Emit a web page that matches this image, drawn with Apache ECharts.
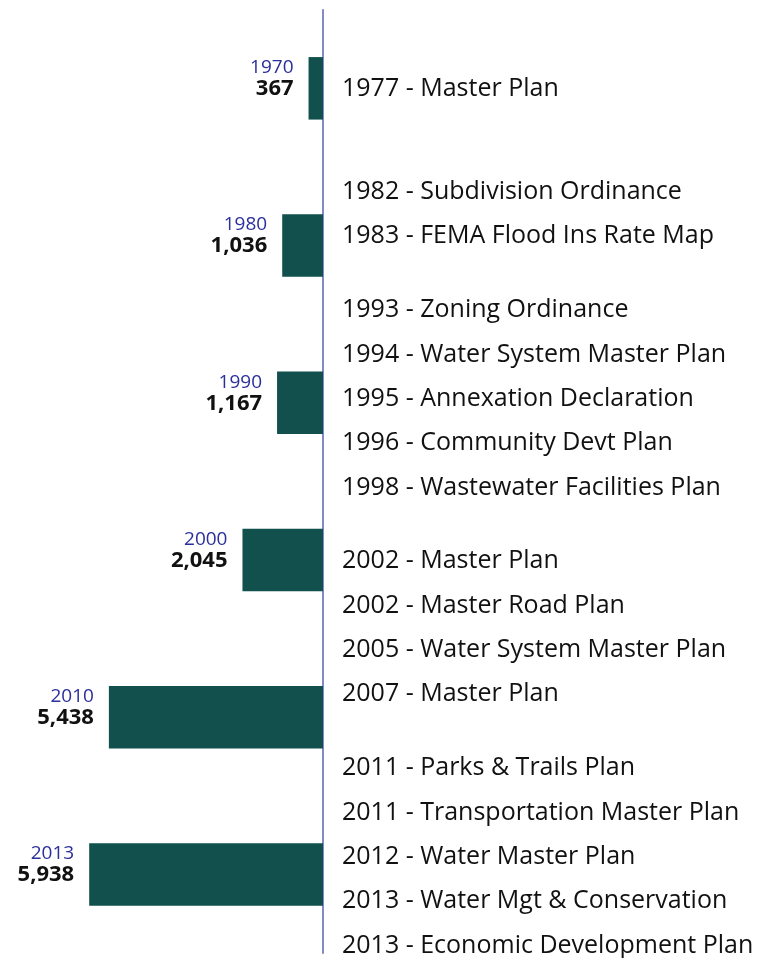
<!DOCTYPE html>
<html>
<head>
<meta charset="utf-8">
<script src="https://cdn.jsdelivr.net/npm/echarts@6/dist/echarts.min.js"></script>
<style>
  html, body { margin: 0; padding: 0; background: #ffffff; }
  #chart { width: 758px; height: 958px; }
</style>
</head>
<body>
<div id="chart"></div>
<script>
// Census years shown beside each bar
const censusYears = ['1970', '1980', '1990', '2000', '2010', '2013'];
// Population values
const population = [367, 1036, 1167, 2045, 5438, 5938];
// Planning milestones (timeline rows; '' = empty row)
const milestoneTicks = [
  '1977 - Master Plan', '', '', '', '', '', '',
  '1982 - Subdivision Ordinance', '', '',
  '1983 - FEMA Flood Ins Rate Map', '', '', '', '',
  '1993 - Zoning Ordinance', '', '',
  '1994 - Water System Master Plan', '', '',
  '1995 - Annexation Declaration', '', '',
  '1996 - Community Devt Plan', '', '',
  '1998 - Wastewater Facilities Plan', '', '', '', '',
  '2002 - Master Plan', '', '',
  '2002 - Master Road Plan', '', '',
  '2005 - Water System Master Plan', '', '',
  '2007 - Master Plan', '', '', '', '',
  '2011 - Parks & Trails Plan', '', '',
  '2011 - Transportation Master Plan', '', '',
  '2012 - Water Master Plan', '', '',
  '2013 - Water Mgt & Conservation', '', '',
  '2013 - Economic Development Plan'
];

const chart = echarts.init(document.getElementById('chart'), null, { renderer: 'canvas' });

const fmt = v => v.toLocaleString('en-US');

chart.setOption({
  backgroundColor: '#ffffff',
  animation: false,
  grid: [
    { left: 8, width: 315, top: 9.7, height: 943.5, containLabel: false },
    { left: 323, right: 0, top: 81, height: 876.5, containLabel: false }
  ],
  xAxis: [
    { gridIndex: 0, type: 'value', inverse: true, min: 0, max: 8000, show: false },
    { gridIndex: 1, type: 'value', min: 0, max: 1, show: false }
  ],
  yAxis: [
    {
      gridIndex: 0, type: 'category', data: censusYears, inverse: true, position: 'right',
      axisLine: { show: true, onZero: false, lineStyle: { color: '#5866ad', width: 1.5 } },
      axisTick: { show: false },
      axisLabel: { show: false },
      splitLine: { show: false }
    },
    {
      gridIndex: 1, type: 'category', data: milestoneTicks, inverse: true, position: 'left',
      axisLine: { show: false },
      axisTick: { show: false },
      splitLine: { show: false },
      axisLabel: {
        show: true, inside: true, interval: 0, margin: 19,
        fontFamily: 'Open Sans', fontSize: 25, color: '#111111'
      }
    }
  ],
  series: [
    {
      type: 'bar',
      xAxisIndex: 0, yAxisIndex: 0,
      data: population,
      barWidth: 62.5,
      itemStyle: { color: '#11504d' },
      label: {
        show: true,
        position: 'left',
        distance: 15,
        offset: [0, -10],
        formatter: p => '{y|' + censusYears[p.dataIndex] + '}\n{v|' + fmt(p.value) + '}',
        rich: {
          y: { fontFamily: 'Open Sans', fontSize: 19, lineHeight: 21, color: '#2a2f9c', align: 'right' },
          v: { fontFamily: 'Open Sans', fontSize: 22, fontWeight: 'bold', lineHeight: 21, color: '#111111', align: 'right' }
        }
      }
    }
  ]
});
</script>
</body>
</html>
